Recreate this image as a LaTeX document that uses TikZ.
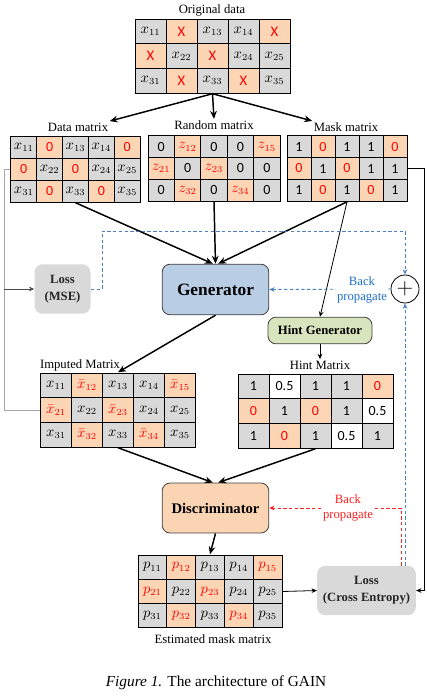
\documentclass[tikz,border=0pt]{standalone}
\usepackage{fontspec}
\setmainfont{Liberation Serif}
\newfontfamily\calib{Carlito}
\usetikzlibrary{matrix,arrows.meta,calc}
\definecolor{cgray}{HTML}{D9D9D9}
\definecolor{cpeach}{HTML}{FCD5B5}
\definecolor{genblue}{HTML}{B9CDE5}
\definecolor{hintgreen}{HTML}{D7E4BD}
\definecolor{discpeach}{HTML}{FBD4B4}
\definecolor{lossgray}{HTML}{D9D9D9}
\definecolor{bpblue}{HTML}{4F81BD}
\definecolor{bptext}{HTML}{1F6FC8}
\definecolor{bpred}{HTML}{FF2020}
\definecolor{linegray}{HTML}{A6A6A6}
\newcommand{\cbn}[1]{{\calib\fontsize{10.5}{12}\selectfont #1}}
\newcommand{\rX}{{\calib\fontsize{11}{12}\selectfont X}}
\begin{document}
\begin{tikzpicture}[x=0.75pt,y=-0.75pt,
  cellmat/.style 2 args={matrix of nodes, inner sep=0pt, column sep=-0.7pt, row sep=-0.7pt,
    nodes={draw=black, line width=0.7pt, fill=cgray, minimum width=#1, minimum height=#2,
      inner sep=0pt, anchor=center, font=\fontsize{10.5}{12}\selectfont}},
  pc/.style={fill=cpeach, text=red},
  wc/.style={fill=white},
  ttl/.style={font=\fontsize{9.5}{11}\selectfont, inner sep=1pt},
  procbox/.style={draw=black!75, line width=0.6pt, rounded corners=6pt, align=center, inner sep=2pt},
  lossbox/.style={fill=lossgray, draw=none, rounded corners=6pt, align=center, inner sep=2pt,
    text=black!85, font=\bfseries\fontsize{9.5}{12.5}\selectfont},
  bigarr/.style={line width=1.1pt, -{Stealth[length=6pt,width=5pt]}},
  thinarr/.style={line width=0.6pt, -{Stealth[length=4pt,width=3.5pt]}},
  bpdash/.style={bpblue, line width=0.7pt, dash pattern=on 2.5pt off 1.8pt},
  rddash/.style={bpred, line width=0.7pt, dash pattern=on 2.5pt off 1.8pt},
]
\useasboundingbox (0,0) rectangle (427,698);

% ---------- matrices ----------
\node[ttl] (otitle) at (212,10) {Original data};
\matrix (orig) [cellmat={23.25pt}{18.5pt}] at (212.5,56) {
  $x_{11}$ & |[pc]| \rX & $x_{13}$ & $x_{14}$ & |[pc]| \rX \\
  |[pc]| \rX & $x_{22}$ & |[pc]| \rX & $x_{24}$ & $x_{25}$ \\
  $x_{31}$ & |[pc]| \rX & $x_{33}$ & |[pc]| \rX & $x_{35}$ \\
};

\node[ttl] (dtitle) at (78,127) {Data matrix};
\matrix (data) [cellmat={19.4pt}{16.5pt}] at (75.5,169) {
  $x_{11}$ & |[pc]| \cbn{0} & $x_{13}$ & $x_{14}$ & |[pc]| \cbn{0} \\
  |[pc]| \cbn{0} & $x_{22}$ & |[pc]| \cbn{0} & $x_{24}$ & $x_{25}$ \\
  $x_{31}$ & |[pc]| \cbn{0} & $x_{33}$ & |[pc]| \cbn{0} & $x_{35}$ \\
};

\node[ttl] (rtitle) at (214,125) {Random matrix};
\matrix (rand) [cellmat={19.8pt}{16.3pt}] at (214,168.5) {
  \cbn{0} & |[pc]| $z_{12}$ & \cbn{0} & \cbn{0} & |[pc]| $z_{15}$ \\
  |[pc]| $z_{21}$ & \cbn{0} & |[pc]| $z_{23}$ & \cbn{0} & \cbn{0} \\
  \cbn{0} & |[pc]| $z_{32}$ & \cbn{0} & |[pc]| $z_{34}$ & \cbn{0} \\
};

\node[ttl] (mtitle) at (346,127) {Mask matrix};
\matrix (mask) [cellmat={18pt}{16.3pt}] at (347,168.5) {
  \cbn{1} & |[pc]| \cbn{0} & \cbn{1} & \cbn{1} & |[pc]| \cbn{0} \\
  |[pc]| \cbn{0} & \cbn{1} & |[pc]| \cbn{0} & \cbn{1} & \cbn{1} \\
  \cbn{1} & |[pc]| \cbn{0} & \cbn{1} & |[pc]| \cbn{0} & \cbn{1} \\
};

\node[ttl] (ititle) at (80,365) {Imputed Matrix};
\matrix (imp) [cellmat={23.25pt}{18.5pt}] at (118,410) {
  $x_{11}$ & |[pc]| $\bar{x}_{12}$ & $x_{13}$ & $x_{14}$ & |[pc]| $\bar{x}_{15}$ \\
  |[pc]| $\bar{x}_{21}$ & $x_{22}$ & |[pc]| $\bar{x}_{23}$ & $x_{24}$ & $x_{25}$ \\
  $x_{31}$ & |[pc]| $\bar{x}_{32}$ & $x_{33}$ & |[pc]| $\bar{x}_{34}$ & $x_{35}$ \\
};

\node[ttl] (htitle) at (320,365) {Hint Matrix};
\matrix (hint) [cellmat={23.25pt}{18.5pt}] at (315.5,411) {
  \cbn{1} & |[wc]| \cbn{0.5} & \cbn{1} & \cbn{1} & |[pc]| \cbn{0} \\
  |[pc]| \cbn{0} & \cbn{1} & |[pc]| \cbn{0} & \cbn{1} & |[wc]| \cbn{0.5} \\
  \cbn{1} & |[pc]| \cbn{0} & \cbn{1} & |[wc]| \cbn{0.5} & \cbn{1} \\
};

\matrix (est) [cellmat={21.6pt}{18.2pt}] at (210,591.5) {
  $p_{11}$ & |[pc]| $p_{12}$ & $p_{13}$ & $p_{14}$ & |[pc]| $p_{15}$ \\
  |[pc]| $p_{21}$ & $p_{22}$ & |[pc]| $p_{23}$ & $p_{24}$ & $p_{25}$ \\
  $p_{31}$ & |[pc]| $p_{32}$ & $p_{33}$ & |[pc]| $p_{34}$ & $p_{35}$ \\
};
\node[ttl] (etitle) at (213,639) {Estimated mask matrix};

% ---------- process boxes ----------
\node[procbox, fill=genblue, minimum width=80pt, minimum height=38pt,
  font=\bfseries\fontsize{13}{15}\selectfont] (gen) at (215.5,289.5) {Generator};
\node[lossbox, minimum width=42pt, minimum height=37pt] (lmse) at (62.5,289) {Loss\\(MSE)};
\node[draw=black, line width=0.6pt, circle, minimum size=21pt, inner sep=0pt,
  font=\fontsize{16}{16}\selectfont] (plus) at (405,289) {$+$};
\node[procbox, fill=hintgreen, minimum width=78pt, minimum height=20pt,
  font=\bfseries\fontsize{9.5}{11}\selectfont] (hgen) at (320,330.5) {Hint Generator};
\node[procbox, fill=discpeach, minimum width=80pt, minimum height=37.5pt,
  font=\bfseries\fontsize{11}{13}\selectfont] (disc) at (215.5,508) {Discriminator};
\node[lossbox, minimum width=74pt, minimum height=37pt] (lce) at (366.5,590.5) {Loss\\(Cross Entropy)};

% ---------- solid connectors ----------
\draw[bigarr] (orig.south) -- (dtitle.north east);
\draw[bigarr] (orig.south) -- (rtitle.north);
\draw[bigarr] (orig.south) -- (mtitle.north west);
\draw[bigarr] (data.south) -- ([xshift=-2pt]gen.north);
\draw[bigarr] (rand.south) -- (gen.north);
\draw[bigarr] (mask.south) -- ([xshift=2pt]gen.north);
\draw[thinarr] (mask.south) -- (hgen.north);
\draw[bigarr] (gen.south) -- (imp.north);
\draw[thinarr] (hgen.south) -- (htitle.north);
\draw[bigarr] (imp.south) -- ([xshift=-2pt]disc.north);
\draw[bigarr] (hint.south) -- ([xshift=2pt]disc.north);
\draw[bigarr] (disc.south) -- (est.north);
\draw[thinarr] (est.east) -- (lce.west);
\draw[thinarr] (mask-2-5.east) -- ++(17,0) coordinate (mr) |- (lce.east);

% gray feed lines
\coordinate (gl) at (4,169);
\draw[linegray, line width=0.7pt] (data-2-1.west) -- (gl) |- (imp-2-1.west);
\draw[black!70, line width=0.6pt, -{Stealth[length=4pt,width=3.5pt]}] (gl |- lmse.west) -- (lmse.west);

% ---------- back propagation ----------
\coordinate (b1) at (102,289);
\coordinate (b2) at (102,231);
\draw[bpdash, -{Stealth[length=4pt,width=3.5pt]}] (lmse.east) -- (b1) -- (b2) -| (plus.north);
\draw[bpdash, -{Stealth[length=4pt,width=3.5pt]}] (plus.west) -- (gen.east);
\node[fill=white, inner sep=0.5pt, align=center, text=bptext,
  font=\fontsize{9.5}{11.3}\selectfont] (bpb) at (362,290) {Back\\propagate};
\draw[bpdash, -{Stealth[length=4pt,width=3.5pt]}] (lce.north -| plus.south) -- (plus.south);

\coordinate (r1) at (401,508);
\draw[rddash, -{Stealth[length=4pt,width=3.5pt]}] (lce.north -| r1) -- (r1) -- (disc.east);
\node[fill=white, inner sep=0.5pt, align=center, text=bpred,
  font=\fontsize{9.5}{11.3}\selectfont] (bpr) at (348,508) {Back\\propagate};

% ---------- caption ----------
\node[font=\fontsize{11.5}{13}\selectfont] (cap) at (216,683) {\textit{Figure 1.} The architecture of GAIN};
\end{tikzpicture}
\end{document}
